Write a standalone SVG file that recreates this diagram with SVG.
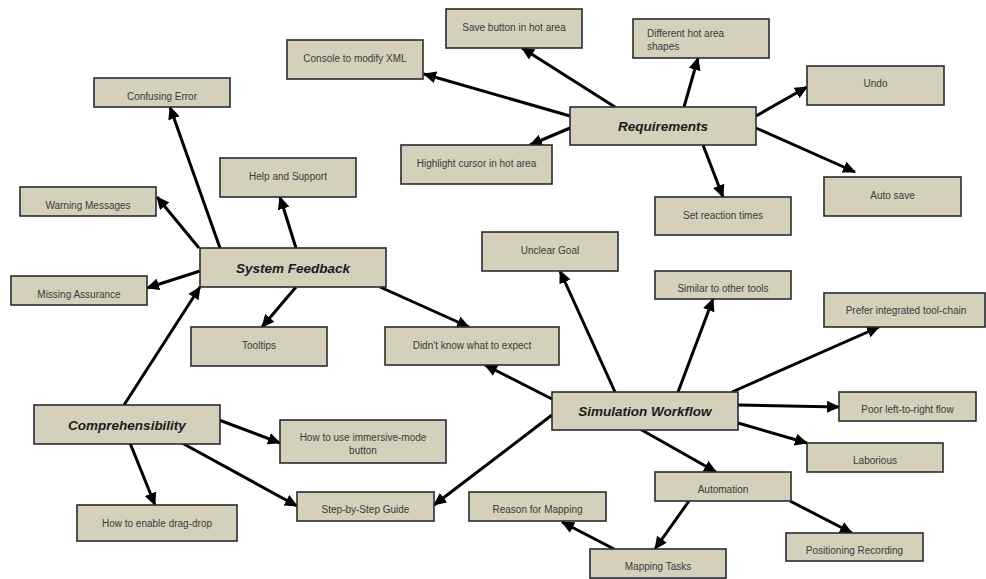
<svg xmlns="http://www.w3.org/2000/svg" width="986" height="579" viewBox="0 0 986 579">
<style>
.box{fill:#d4d0bc;stroke:#2b2b2b;stroke-width:1.6}
.t{font-family:"Liberation Sans",Arial,sans-serif;font-size:10px;fill:#3a3a3a;text-anchor:middle}
.tl{text-anchor:start}
.m{font-family:"Liberation Sans",Arial,sans-serif;font-size:13.5px;font-weight:bold;font-style:italic;fill:#1a1a1a;text-anchor:middle}
.c{stroke:#000;stroke-width:3;fill:none;marker-end:url(#ah)}
</style>
<defs>
<marker id="ah" markerUnits="userSpaceOnUse" markerWidth="13" markerHeight="12" refX="12" refY="6" orient="auto">
<path d="M0,0 L13,6 L0,12 z" fill="#000"/>
</marker>
</defs>
<rect width="986" height="579" fill="#fff"/>
<g id="connectors">
<line class="c" x1="570" y1="116" x2="424" y2="74"/>
<line class="c" x1="615" y1="107" x2="522" y2="48"/>
<line class="c" x1="684" y1="107" x2="698" y2="58"/>
<line class="c" x1="570" y1="128" x2="530" y2="145"/>
<line class="c" x1="756" y1="116" x2="807" y2="87"/>
<line class="c" x1="756" y1="128" x2="855" y2="172"/>
<line class="c" x1="703" y1="145" x2="723" y2="197"/>
<line class="c" x1="220" y1="248" x2="170" y2="107"/>
<line class="c" x1="199" y1="248" x2="157" y2="197"/>
<line class="c" x1="296" y1="248" x2="280" y2="197"/>
<line class="c" x1="200" y1="271" x2="147" y2="288"/>
<line class="c" x1="296" y1="287" x2="262" y2="327"/>
<line class="c" x1="380" y1="287" x2="469" y2="327"/>
<line class="c" x1="124" y1="405" x2="200" y2="287"/>
<line class="c" x1="615" y1="392" x2="560" y2="271"/>
<line class="c" x1="678" y1="392" x2="713" y2="299"/>
<line class="c" x1="732" y1="392" x2="879" y2="327"/>
<line class="c" x1="552" y1="399" x2="485" y2="365"/>
<line class="c" x1="738" y1="405" x2="839" y2="407"/>
<line class="c" x1="738" y1="423" x2="807" y2="443"/>
<line class="c" x1="640" y1="429" x2="716" y2="472"/>
<line class="c" x1="552" y1="415" x2="434" y2="505"/>
<line class="c" x1="219" y1="420" x2="280" y2="443"/>
<line class="c" x1="182" y1="443" x2="297" y2="506"/>
<line class="c" x1="130" y1="443" x2="155" y2="505"/>
<line class="c" x1="689" y1="501" x2="655" y2="549"/>
<line class="c" x1="790" y1="501" x2="852" y2="533"/>
<line class="c" x1="614" y1="549" x2="562" y2="522"/>
</g>
<g id="requirements"><rect class="box" x="570" y="107" width="186" height="38"/><text class="m" x="663" y="131">Requirements</text></g>
<g id="console"><rect class="box" x="287" y="40" width="136" height="39"/><text class="t" x="355" y="61.5">Console to modify XML</text></g>
<g id="save-button"><rect class="box" x="446" y="9" width="136" height="39"/><text class="t" x="514" y="30.5">Save button in hot area</text></g>
<g id="different-shapes"><rect class="box" x="633" y="19" width="136" height="39"/><text class="t tl" x="647" y="37">Different hot area</text><text class="t tl" x="647" y="50">shapes</text></g>
<g id="highlight-cursor"><rect class="box" x="401" y="145" width="151" height="39"/><text class="t" x="476.5" y="166.5">Highlight cursor in hot area</text></g>
<g id="undo"><rect class="box" x="807" y="66" width="137" height="39"/><text class="t" x="875.5" y="87">Undo</text></g>
<g id="auto-save"><rect class="box" x="824" y="177" width="137" height="39"/><text class="t" x="892.5" y="198.5">Auto save</text></g>
<g id="reaction-times"><rect class="box" x="655" y="197" width="136" height="38"/><text class="t" x="723" y="218.5">Set reaction times</text></g>
<g id="system-feedback"><rect class="box" x="200" y="248" width="186" height="39"/><text class="m" x="293" y="272.5">System Feedback</text></g>
<g id="confusing-error"><rect class="box" x="94" y="78" width="136" height="29"/><text class="t" x="162" y="99.5">Confusing Error</text></g>
<g id="warning-messages"><rect class="box" x="20" y="187" width="136" height="29"/><text class="t" x="88" y="208.5">Warning Messages</text></g>
<g id="help-support"><rect class="box" x="220" y="158" width="136" height="39"/><text class="t" x="288" y="179.5">Help and Support</text></g>
<g id="missing-assurance"><rect class="box" x="11" y="276" width="136" height="29"/><text class="t" x="79" y="297.5">Missing Assurance</text></g>
<g id="tooltips"><rect class="box" x="191" y="327" width="136" height="39"/><text class="t" x="259" y="348.5">Tooltips</text></g>
<g id="didnt-know"><rect class="box" x="385" y="327" width="174" height="38"/><text class="t" x="472" y="348.5">Didn't know what to expect</text></g>
<g id="unclear-goal"><rect class="box" x="482" y="232" width="136" height="39"/><text class="t" x="550" y="253.5">Unclear Goal</text></g>
<g id="similar-tools"><rect class="box" x="655" y="271" width="136" height="28"/><text class="t" x="723" y="292">Similar to other tools</text></g>
<g id="prefer-toolchain"><rect class="box" x="824" y="293" width="161" height="34"/><text class="t" x="906" y="314">Prefer integrated tool-chain</text></g>
<g id="simulation-workflow"><rect class="box" x="552" y="392" width="186" height="38"/><text class="m" x="645" y="415.5">Simulation Workflow</text></g>
<g id="poor-flow"><rect class="box" x="839" y="392" width="137" height="29"/><text class="t" x="907.5" y="413">Poor left-to-right flow</text></g>
<g id="laborious"><rect class="box" x="807" y="443" width="136" height="29"/><text class="t" x="875" y="464">Laborious</text></g>
<g id="automation"><rect class="box" x="655" y="472" width="136" height="29"/><text class="t" x="723" y="493">Automation</text></g>
<g id="comprehensibility"><rect class="box" x="34" y="405" width="186" height="39"/><text class="m" x="127" y="429.5">Comprehensibility</text></g>
<g id="immersive-mode"><rect class="box" x="280" y="420" width="166" height="43"/><text class="t" x="363" y="441">How to use immersive-mode</text><text class="t" x="363" y="454">button</text></g>
<g id="drag-drop"><rect class="box" x="77" y="505" width="160" height="36"/><text class="t" x="157" y="526.5">How to enable drag-drop</text></g>
<g id="step-guide"><rect class="box" x="297" y="492" width="137" height="29"/><text class="t" x="365.5" y="513">Step-by-Step Guide</text></g>
<g id="reason-mapping"><rect class="box" x="469" y="492" width="137" height="29"/><text class="t" x="537.5" y="513">Reason for Mapping</text></g>
<g id="mapping-tasks"><rect class="box" x="590" y="549" width="136" height="29"/><text class="t" x="658" y="570">Mapping Tasks</text></g>
<g id="positioning-recording"><rect class="box" x="786" y="533" width="137" height="28"/><text class="t" x="854.5" y="554">Positioning Recording</text></g>
</svg>
